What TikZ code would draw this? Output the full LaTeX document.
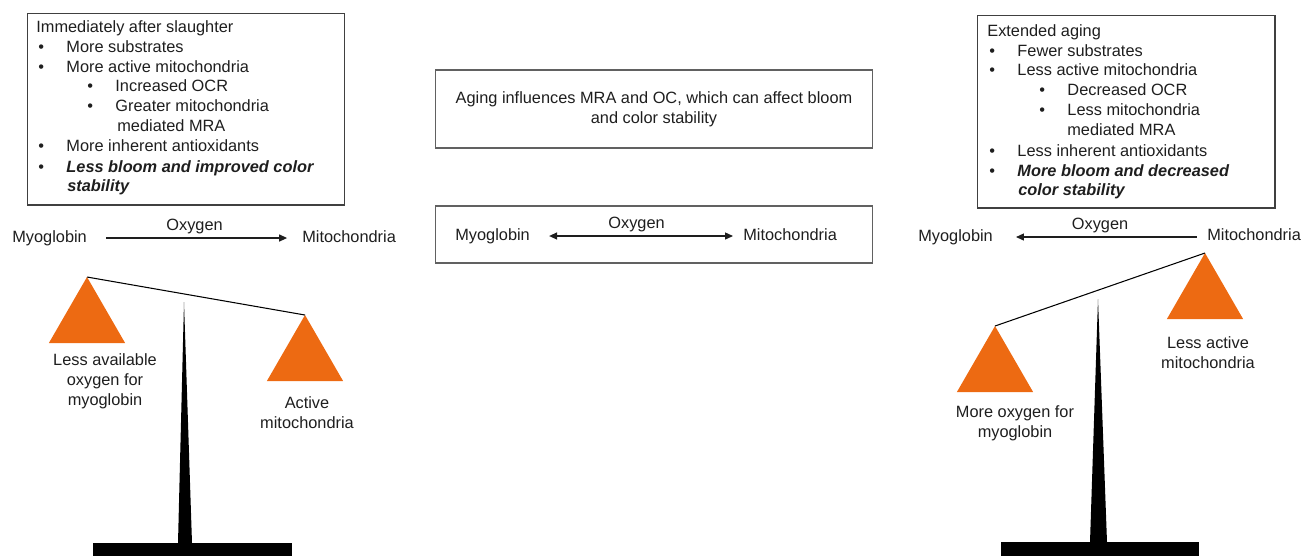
\documentclass[tikz,border=0pt]{standalone}
\usepackage{fontspec}
\setmainfont{Liberation Sans}
\usetikzlibrary{arrows.meta,shapes.geometric}
\definecolor{pancol}{RGB}{237,106,18}
\definecolor{ink}{RGB}{30,30,30}
\newcommand{\itm}{\makebox[16pt][l]{\textbullet}}

\begin{document}
\begin{tikzpicture}[x=0.02cm,y=-0.02cm,
    font=\fontsize{9.3}{11.4}\selectfont, text=ink,
    ln/.style={anchor=west, inner sep=0pt, text height=7pt, text depth=2pt},
    frame/.style={draw=ink!85, line width=0.6pt, inner sep=0pt},
    pan/.style={regular polygon, regular polygon sides=3, fill=pancol,
      minimum size=1.76cm, inner sep=0pt, outer sep=0pt},
    flow/.style={draw=ink, line width=0.6pt},
    lbl/.style={align=center, inner sep=0pt}]

  \useasboundingbox (0,0) rectangle (1302,556);

  % left box
  \node[frame, minimum width=6.36cm, minimum height=3.84cm] (boxL) at (186,109) {};
  \node[ln] (l0) at (36,28) {Immediately after slaughter};
  \node[ln] (l1) at (38,48) {\itm More substrates};
  \node[ln] (l2) at (38,68) {\itm More active mitochondria};
  \node[ln] (l3) at (87,87) {\itm Increased OCR};
  \node[ln] (l4) at (87,107) {\itm Greater mitochondria};
  \node[ln] (l5) at (117,127) {mediated MRA};
  \node[ln] (l6) at (38,147) {\itm More inherent antioxidants};
  \node[ln] (l7) at (38,168) {\itm\textbf{\textit{Less bloom and improved color}}};
  \node[ln] (l8) at (67,187) {\textbf{\textit{stability}}};

  % right box
  \node[frame, minimum width=5.96cm, minimum height=3.86cm] (boxR) at (1126,111.5) {};
  \node[ln] (r0) at (987,32) {Extended aging};
  \node[ln] (r1) at (989,52) {\itm Fewer substrates};
  \node[ln] (r2) at (989,71) {\itm Less active mitochondria};
  \node[ln] (r3) at (1039,91) {\itm Decreased OCR};
  \node[ln] (r4) at (1039,111) {\itm Less mitochondria};
  \node[ln] (r5) at (1067,131) {mediated MRA};
  \node[ln] (r6) at (989,152) {\itm Less inherent antioxidants};
  \node[ln] (r7) at (989,172) {\itm\textbf{\textit{More bloom and decreased}}};
  \node[ln] (r8) at (1018,191) {\textbf{\textit{color stability}}};

  % middle boxes
  \node[frame, draw=ink!70, minimum width=8.76cm, minimum height=1.56cm, align=center] (msg) at (654,109)
    {Aging influences MRA and OC, which can affect bloom\\and color stability};
  \node[frame, draw=ink!70, minimum width=8.76cm, minimum height=1.14cm] (rowC) at (654,234.5) {};
  \node[ln] (myoC) at (455,236) {Myoglobin};
  \node[ln] (mitoC) at (743,236) {Mitochondria};
  \draw[flow, {Triangle[length=4.5pt,width=4pt]}-{Triangle[length=4.5pt,width=4pt]},
    shorten <=10.8pt, shorten >=5.7pt] (myoC.east) -- (mitoC.west)
    node[ln, midway, above=2pt] (oxC) {Oxygen};

  % left row
  \node[ln] (myoL) at (12,238) {Myoglobin};
  \node[ln] (mitoL) at (302,238) {Mitochondria};
  \draw[flow, -{Triangle[length=4.5pt,width=4pt]}, shorten <=10.8pt, shorten >=8.5pt]
    (myoL.east) -- (mitoL.west) node[ln, midway, above=2pt] (oxL) {Oxygen};

  % right row
  \node[ln] (myoR) at (918,237) {Myoglobin};
  \node[ln] (mitoR) at (1207,236) {Mitochondria};
  \draw[flow, -{Triangle[length=4.5pt,width=4pt]}, shorten <=5.7pt, shorten >=13pt]
    (mitoR.west |- 0,237) -- (myoR.east |- 0,237) node[ln, midway, above=2pt] (oxR) {Oxygen};

  % left scale
  \fill (184,302) -- (192,543) -- (178,543) -- cycle;
  \fill (93,543) rectangle (292,556);
  \node[pan] (panLa) at (87,321) {};
  \node[pan] (panLb) at (305,359) {};
  \draw[line width=0.6pt] (panLa.corner 1) -- (panLb.corner 1);
  \node[lbl] (labLa) at (105,381) {Less available\\oxygen for\\myoglobin};
  \node[lbl] (labLb) at (307,413) {Active\\mitochondria};

  % right scale
  \fill (1098,299) -- (1107,542) -- (1090,542) -- cycle;
  \fill (1001,542) rectangle (1199,556);
  \node[pan] (panRa) at (995,370) {};
  \node[pan] (panRb) at (1205,297) {};
  \draw[line width=0.6pt] (panRa.corner 1) -- (panRb.corner 1);
  \node[lbl] (labRa) at (1015,423) {More oxygen for\\myoglobin};
  \node[lbl] (labRb) at (1208,353) {Less active\\mitochondria};

\end{tikzpicture}
\end{document}
